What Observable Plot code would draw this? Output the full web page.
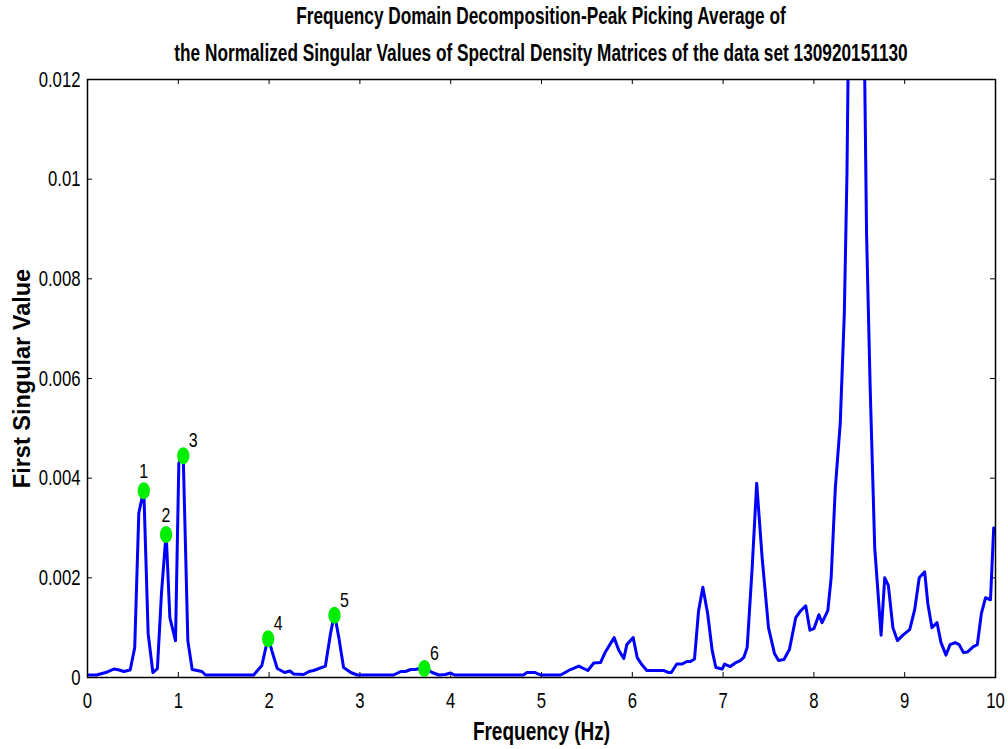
<!DOCTYPE html>
<html><head><meta charset="utf-8">
<script src="https://cdn.jsdelivr.net/npm/d3@7"></script>
<script src="https://cdn.jsdelivr.net/npm/@observablehq/plot@0.6"></script>
<style>
body{margin:0;background:#fff;position:relative;width:1008px;height:749px;overflow:hidden;}
.tline{position:absolute;left:541px;white-space:nowrap;font-family:"Liberation Sans",Arial,sans-serif;font-weight:bold;font-size:23px;line-height:26px;color:#000;transform:translateX(-50%) scaleX(0.75);}
#t1{top:3px;} #t2{top:40px;}
#chart{position:absolute;left:0;top:66px;}
#chart svg g[aria-label="x-axis tick label"] text,#chart svg g[aria-label="y-axis tick label"] text{font-size:22px;}
#chart svg g[aria-label="x-axis label"] text{font-weight:bold;font-size:25px;}
#chart svg g[aria-label="y-axis label"] text{font-weight:bold;font-size:23.5px;}
</style>
</head><body>
<div class="tline" id="t1">Frequency Domain Decomposition-Peak Picking Average of</div>
<div class="tline" id="t2">the Normalized Singular Values of Spectral Density Matrices of the data set 130920151130</div>
<div id="chart"></div>
<script>
const freq = [0.00,0.10,0.20,0.29,0.35,0.40,0.47,0.52,0.565,0.62,0.668,0.72,0.77,0.815,0.866,0.907,0.969,1.006,1.054,1.105,1.153,1.26,1.30,1.83,1.92,1.99,2.03,2.09,2.17,2.23,2.27,2.38,2.44,2.49,2.62,2.676,2.72,2.768,2.82,2.90,2.97,3.37,3.45,3.50,3.56,3.61,3.71,3.796,3.87,3.94,4.0,4.04,4.80,4.84,4.93,4.99,5.21,5.32,5.41,5.51,5.576,5.65,5.70,5.80,5.85,5.906,5.94,6.01,6.054,6.10,6.16,6.35,6.40,6.43,6.49,6.55,6.60,6.64,6.685,6.73,6.777,6.83,6.88,6.92,6.99,7.015,7.08,7.14,7.19,7.23,7.265,7.32,7.37,7.43,7.50,7.566,7.61,7.67,7.73,7.80,7.855,7.91,7.956,8.0,8.055,8.09,8.153,8.19,8.236,8.29,8.335,8.364,8.40,8.45,8.52,8.56,8.58,8.62,8.67,8.74,8.78,8.82,8.87,8.92,8.98,9.055,9.11,9.16,9.22,9.255,9.30,9.356,9.40,9.455,9.50,9.556,9.60,9.647,9.69,9.756,9.80,9.844,9.89,9.945,9.98,10.0];
const singular = [0.00005,0.00005,0.0001,0.00017,0.00015,0.00012,0.00015,0.0006,0.0033,0.00377,0.00088,0.0001,0.00018,0.0017,0.0029,0.0012,0.00074,0.0043,0.00446,0.00074,0.00016,0.00012,0.00005,0.00005,0.00024,0.00081,0.00054,0.00018,0.0001,0.00013,0.00007,0.00006,0.00012,0.00014,0.00023,0.00088,0.00128,0.0008,0.0002,0.0001,0.00005,0.00005,0.00012,0.00012,0.00016,0.00016,0.0002,0.0001,0.00005,0.00006,0.00009,0.00005,0.00005,0.0001,0.0001,0.00005,0.00005,0.00016,0.00023,0.00014,0.00029,0.0003,0.0005,0.0008,0.00055,0.00038,0.00066,0.0008,0.0004,0.00027,0.00014,0.00014,0.0001,0.0001,0.00027,0.00027,0.00032,0.00032,0.00037,0.00134,0.00181,0.00128,0.00054,0.0002,0.00017,0.00027,0.00022,0.0003,0.00034,0.00041,0.0006,0.0022,0.0039,0.0024,0.001,0.00048,0.00034,0.00036,0.00056,0.0012,0.00134,0.00144,0.00095,0.00098,0.00126,0.0011,0.00134,0.002,0.0038,0.0051,0.0073,0.0101,0.016,0.02,0.016,0.012,0.0089,0.0058,0.0026,0.00085,0.002,0.00185,0.001,0.00074,0.00085,0.00096,0.00136,0.002,0.00212,0.00148,0.001,0.0011,0.0007,0.00045,0.00066,0.0007,0.00066,0.0005,0.00051,0.00062,0.00066,0.00128,0.0016,0.00156,0.003,0.003];
const peakFreq = [0.62,0.865,1.055,1.99,2.72,3.71];
const peakValue = [0.00375,0.00287,0.00445,0.00078,0.00125,0.00018];
const peakLabel = ["1","2","3","4","5","6"];
const xTicks = [0,1,2,3,4,5,6,7,8,9,10];
const yTicks = [0,0.002,0.004,0.006,0.008,0.01,0.012];

const series = freq.map((f,i)=>({f, v: singular[i]}));
const peaks = peakFreq.map((f,i)=>({f, v: peakValue[i], label: peakLabel[i]}));
const above = peaks.slice(0,2), right = peaks.slice(2);

const W = 1008, H = 683, mT = 13, mB = 72, mL = 87, mR = 13;
const innerW = W - mL - mR, innerH = H - mT - mB, tl = 5;
const SQ = 0.76; // horizontal squeeze of the original figure's text

const K = 0.5523;
const ellipse = {draw(ctx, size) {
  const ry = Math.sqrt(size / Math.PI), rx = ry * 0.72;
  ctx.moveTo(rx, 0);
  ctx.bezierCurveTo(rx, ry*K, rx*K, ry, 0, ry);
  ctx.bezierCurveTo(-rx*K, ry, -rx, ry*K, -rx, 0);
  ctx.bezierCurveTo(-rx, -ry*K, -rx*K, -ry, 0, -ry);
  ctx.bezierCurveTo(rx*K, -ry, rx, -ry*K, rx, 0);
  ctx.closePath();
}};

const chart = Plot.plot({
  width: W, height: H, marginTop: mT, marginBottom: mB, marginLeft: mL, marginRight: mR,
  style: {fontFamily: '"Liberation Sans",Arial,sans-serif', fontSize: "22px", color: "#000", background: "#fff", overflow: "visible"},
  x: {domain: [0,10]},
  y: {domain: [0,0.012]},
  marks: [
    Plot.axisX({anchor: "bottom", ticks: xTicks, tickSize: 0, tickPadding: 15, label: "Frequency (Hz)", labelArrow: "none", labelAnchor: "center", labelOffset: 62}),
    Plot.axisY({anchor: "left", ticks: yTicks, tickSize: 0, tickPadding: 7, tickFormat: d => String(+d.toFixed(4)), label: "First Singular Value", labelArrow: "none", labelAnchor: "center", labelOffset: 74}),
    Plot.ruleX(xTicks, {x: d => d, insetTop: innerH - tl, stroke: "#000"}),
    Plot.ruleX(xTicks, {x: d => d, insetBottom: innerH - tl, stroke: "#000"}),
    Plot.ruleY(yTicks, {y: d => d, insetRight: innerW - tl, stroke: "#000"}),
    Plot.ruleY(yTicks, {y: d => d, insetLeft: innerW - tl, stroke: "#000"}),
    Plot.line(series, {x: "f", y: "v", stroke: "#0000ff", strokeWidth: 3, clip: true}),
    Plot.frame({stroke: "#000", strokeWidth: 1.5}),
    Plot.dot(peaks, {x: "f", y: "v", r: 8.5, symbol: ellipse, fill: "#00ee00", stroke: "none"}),
    Plot.text(above, {x: "f", y: "v", text: "label", dy: -19, fontSize: 21, fill: "#000"}),
    Plot.text(right, {x: "f", y: "v", text: "label", dx: 10, dy: -15, fontSize: 21, fill: "#000"})
  ]
});
document.getElementById("chart").appendChild(chart);

// squeeze horizontal glyphs, like the compressed original figure
chart.querySelectorAll("text").forEach(t => {
  const tr = t.getAttribute("transform") || "";
  if (/rotate/.test(tr)) return;
  const len = t.getComputedTextLength();
  if (len > 0) {
    t.setAttribute("textLength", (len * SQ).toFixed(2));
    t.setAttribute("lengthAdjust", "spacingAndGlyphs");
  }
});
</script>
</body></html>
